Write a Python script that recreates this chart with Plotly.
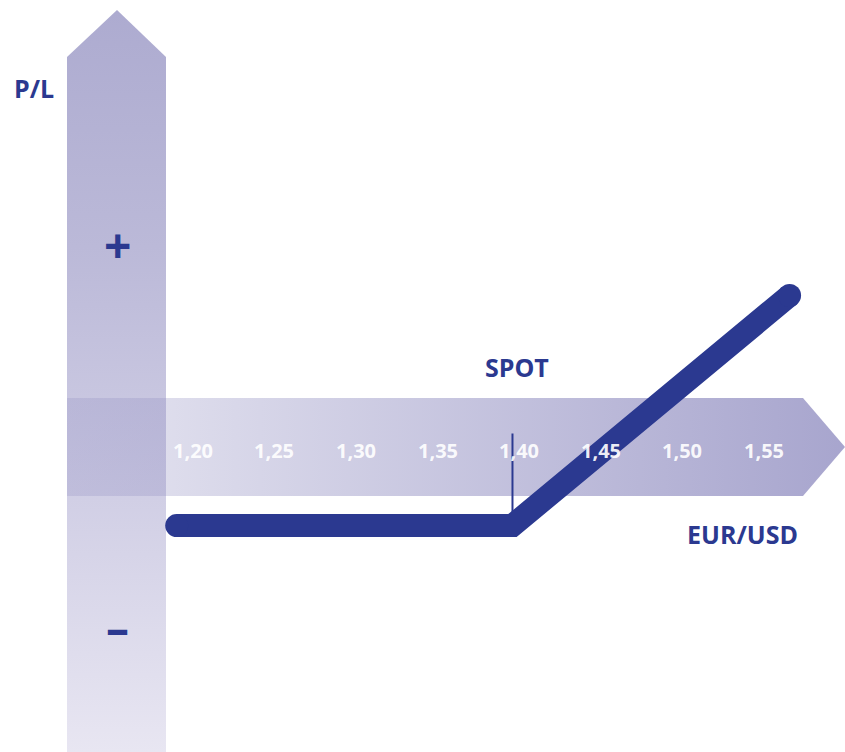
import plotly.graph_objects as go

# EUR/USD call option payoff profile
spot_rates = [1.19, 1.396, 1.566]      # EUR/USD at the line's start, strike/spot and end
pnl = [-0.058, -0.058, 0.112]          # profit / loss at those rates
spot = 1.396
spot_tick_top = 0.010

tick_values = [1.20, 1.25, 1.30, 1.35, 1.40, 1.45, 1.50, 1.55]
tick_labels = ["1,20", "1,25", "1,30", "1,35", "1,40", "1,45", "1,50", "1,55"]

W, H = 845, 752
NAVY = "#2b3990"
FONT = "Open Sans"

fig = go.Figure()

# --- background arrows (pixel-unit canvas on the base axes) ---
# vertical P/L arrow
fig.add_trace(go.Scatter(
    x=[67, 67, 117, 166, 166, 67], y=[752, 57, 10, 57, 752, 752],
    mode="lines", line=dict(width=0), fill="toself",
    fillgradient=dict(type="vertical", start=10, stop=752,
                      colorscale=[[0, "rgb(173,171,208)"], [0.32, "rgb(187,185,216)"],
                                  [0.6, "rgb(205,203,227)"], [1, "rgb(232,230,242)"]]),
    hoverinfo="skip", showlegend=False, xaxis="x", yaxis="y"))

# horizontal EUR/USD arrow (translucent, darker towards the tip)
fig.add_trace(go.Scatter(
    x=[67, 803, 845, 803, 67, 67], y=[398, 398, 447, 496, 496, 398],
    mode="lines", line=dict(width=0), fill="toself",
    fillgradient=dict(type="horizontal", start=67, stop=845,
                      colorscale=[[0, "rgba(143,140,192,0.26)"], [0.13, "rgba(143,140,192,0.30)"],
                                  [1, "rgba(143,140,192,0.78)"]]),
    hoverinfo="skip", showlegend=False, xaxis="x", yaxis="y"))

# --- data layer (overlay axes in EUR/USD and P/L units) ---
fig.add_trace(go.Scatter(
    x=[spot, spot], y=[spot_tick_top, pnl[1]], mode="lines",
    line=dict(color=NAVY, width=2), hoverinfo="skip", showlegend=False,
    xaxis="x2", yaxis="y2"))

fig.add_trace(go.Scatter(
    x=spot_rates, y=pnl, mode="lines",
    line=dict(color=NAVY, width=23),
    hoverinfo="skip", showlegend=False, xaxis="x2", yaxis="y2"))

# round caps at both ends of the payoff line
fig.add_trace(go.Scatter(
    x=[spot_rates[0], spot_rates[-1]], y=[pnl[0], pnl[-1]], mode="markers",
    marker=dict(color=NAVY, size=23, opacity=1, line=dict(width=0)),
    hoverinfo="skip", showlegend=False, xaxis="x2", yaxis="y2"))

annotations = []
for v, t in zip(tick_values, tick_labels):
    annotations.append(dict(x=v, y=450, xref="x2", yref="y", text=t, showarrow=False,
                            xanchor="center", yanchor="middle",
                            font=dict(family=FONT, size=20, color="rgba(255,255,255,0.93)",
                                      weight=700)))

label_font = dict(family=FONT, size=25, color=NAVY, weight=700)
annotations += [
    dict(x=34, y=88, xref="x", yref="y", text="P/L", showarrow=False, font=label_font),
    dict(x=517, y=367, xref="x", yref="y", text="SPOT", showarrow=False, font=label_font),
    dict(x=742, y=534, xref="x", yref="y", text="EUR/USD", showarrow=False, font=label_font),
    dict(x=117, y=244, xref="x", yref="y", text="+", showarrow=False,
         font=dict(family=FONT, size=48, color=NAVY, weight=700)),
    dict(x=117, y=627, xref="x", yref="y", text="–", showarrow=False,
         font=dict(family=FONT, size=46, color=NAVY, weight=700)),
]

hidden = dict(visible=False, showgrid=False, zeroline=False, fixedrange=True)
fig.update_layout(
    width=W, height=H, margin=dict(l=0, r=0, t=0, b=0),
    paper_bgcolor="white", plot_bgcolor="white",
    xaxis=dict(range=[0, W], domain=[0, 1], **hidden),
    yaxis=dict(range=[H, 0], domain=[0, 1], **hidden),
    xaxis2=dict(range=[1.0816, 1.60], overlaying="x", **hidden),
    yaxis2=dict(range=[-0.2254, 0.3304], overlaying="y", **hidden),
    annotations=annotations,
)

fig.write_html("out.html")
